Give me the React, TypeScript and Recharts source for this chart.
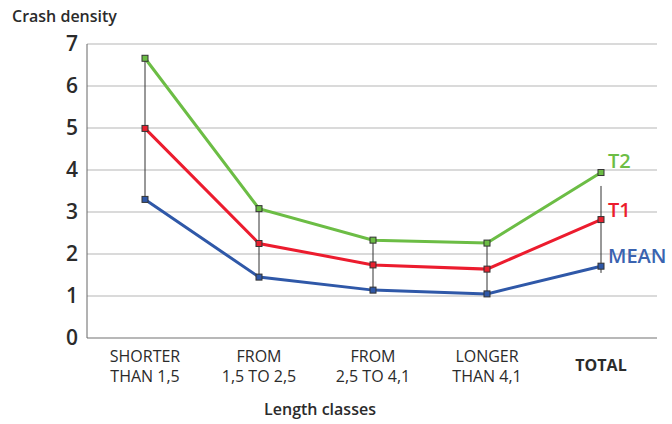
import { LineChart, Line, XAxis, YAxis, CartesianGrid, ErrorBar } from 'recharts'

const categories = ['SHORTER|THAN 1,5', 'FROM|1,5  TO 2,5', 'FROM|2,5 TO 4,1', 'LONGER|THAN 4,1', 'TOTAL']
const meanValues = [3.3, 1.45, 1.14, 1.05, 1.71]
const t1Values = [4.99, 2.25, 1.74, 1.64, 2.82]
const t2Values = [6.66, 3.08, 2.33, 2.26, 3.94]
// vertical range lines drawn around T1 (below / above)
const rangeLow = [1.69, 0.8, 0.6, 0.59, 1.27]
const rangeHigh = [1.67, 0.83, 0.59, 0.62, 0.8]
const yTicks = [0, 1, 2, 3, 4, 5, 6, 7]

const data = categories.map((c, i) => ({
  name: c,
  mean: meanValues[i],
  t1: t1Values[i],
  t2: t2Values[i],
  range: [rangeLow[i], rangeHigh[i]],
}))

const FONT = '"Open Sans", "Noto Sans", sans-serif'

const SquareDot = (color: string) => (props: any) => {
  const { cx, cy, index } = props
  if (cx == null || cy == null) return <g key={index} />
  return (
    <rect key={index} x={cx - 3} y={cy - 3} width={6} height={6} fill={color} stroke="#333" strokeWidth={1} />
  )
}

const EndLabel = (text: string, color: string, dy: number) => (props: any) => {
  const { x, y, index } = props
  if (index !== categories.length - 1) return null
  return (
    <text x={x + 7} y={y + dy} fill={color} fontSize={20} fontFamily={FONT} fontWeight={600}>
      {text}
    </text>
  )
}

const XTick = (props: any) => {
  const { x, y, payload } = props
  const parts = String(payload.value).split('|')
  if (parts.length === 1) {
    return (
      <text x={x} y={y + 25} textAnchor="middle" fill="#2b2b2b" fontSize={16} fontWeight={700} fontFamily={FONT}>
        {parts[0]}
      </text>
    )
  }
  return (
    <text x={x} y={y + 16} textAnchor="middle" fill="#2b2b2b" fontSize={16} fontFamily={FONT}>
      <tspan x={x} dy={0}>{parts[0]}</tspan>
      <tspan x={x} dy={20}>{parts[1]}</tspan>
    </text>
  )
}

export default function App() {
  return (
    <div style={{ position: 'absolute', left: 0, top: 0, width: 672, height: 424, background: '#fff' }}>
      <LineChart width={672} height={424} data={data} margin={{ top: 44, right: 15, left: 0, bottom: 0 }}>
        <CartesianGrid vertical={false} stroke="#b5b5b5" strokeWidth={1} />
        <XAxis
          dataKey="name"
          tick={<XTick />}
          tickLine={false}
          axisLine={{ stroke: '#b8b8b8', strokeWidth: 2 }}
          height={86}
          interval={0}
          padding={{ left: 58, right: 56 }}
        />
        <YAxis
          domain={[0, 7]}
          ticks={yTicks}
          width={87}
          tickLine={false}
          axisLine={{ stroke: '#666', strokeWidth: 1 }}
          tick={{ fill: '#2b2b2b', fontSize: 21, fontWeight: 600, fontFamily: FONT }}
          tickMargin={3}
        />
        <Line
          dataKey="t1"
          stroke="#ec1c2e"
          strokeWidth={3}
          dot={SquareDot('#e8212f')}
          activeDot={false}
          isAnimationActive={false}
          label={EndLabel('T1', '#ec1c2e', -3)}
        >
          <ErrorBar dataKey="range" width={0} stroke="#333" strokeWidth={1} direction="y" />
        </Line>
        <Line
          dataKey="mean"
          stroke="#2f58a8"
          strokeWidth={3}
          dot={SquareDot('#2f58a8')}
          activeDot={false}
          isAnimationActive={false}
          label={EndLabel('MEAN', '#3a63b0', -3)}
        />
        <Line
          dataKey="t2"
          stroke="#6cbd45"
          strokeWidth={3}
          dot={SquareDot('#6cbd45')}
          activeDot={false}
          isAnimationActive={false}
          label={EndLabel('T2', '#6cbd45', -5)}
        />
        <text x={12} y={22} fill="#2b2b2b" fontSize={16} fontWeight={600} fontFamily={FONT}>
          Crash density
        </text>
        <text x={320} y={415} textAnchor="middle" fill="#2b2b2b" fontSize={16} fontWeight={600} fontFamily={FONT}>
          Length classes
        </text>
      </LineChart>
    </div>
  )
}
